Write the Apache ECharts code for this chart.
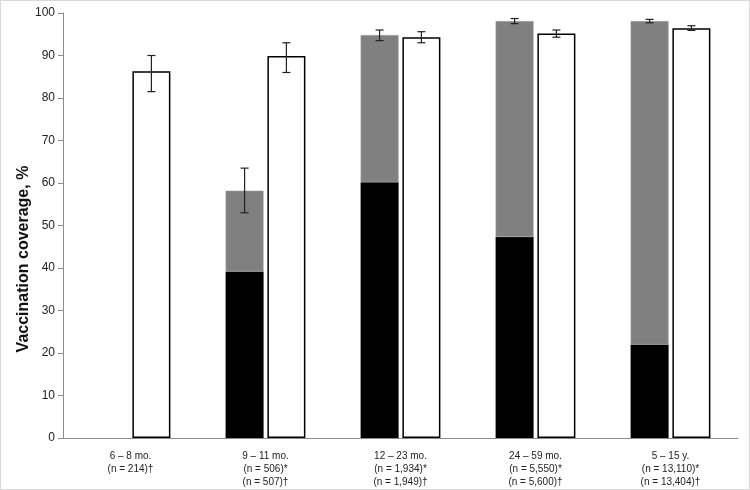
<!DOCTYPE html>
<html>
<head>
<meta charset="utf-8">
<script src="https://cdn.jsdelivr.net/npm/echarts@6/dist/echarts.min.js"></script>
<style>
  html, body { margin: 0; padding: 0; background: #fff; }
  #chart { width: 748px; height: 488px; border: 1px solid #d9d9d9; }
</style>
</head>
<body>
<div id="chart"></div>
<script>
// categories + sample sizes
const categories = [
  "6 – 8 mo.\n(n = 214)†",
  "9 – 11 mo.\n(n = 506)*\n(n = 507)†",
  "12 – 23 mo.\n(n = 1,934)*\n(n = 1,949)†",
  "24 – 59 mo.\n(n = 5,550)*\n(n = 5,600)†",
  "5 – 15 y.\n(n = 13,110)*\n(n = 13,404)†"
];

// stacked bar: black part and total height (black + gray)
const blackValues = [null, 39.2, 60.2, 47.3, 22.0];
const stackTotals = [null, 58.2, 94.8, 98.1, 98.1];
const stackLow = [null, 53.0, 93.5, 97.5, 97.7];
const stackHigh = [null, 63.5, 96.0, 98.7, 98.5];

// white bar
const whiteValues = [86.3, 89.9, 94.3, 95.2, 96.4];
const whiteLow = [81.5, 86.0, 93.0, 94.3, 95.9];
const whiteHigh = [90.0, 93.0, 95.6, 96.0, 97.0];

const yTicks = [0, 10, 20, 30, 40, 50, 60, 70, 80, 90, 100];

const grayValues = stackTotals.map((t, i) => (t == null ? null : +(t - blackValues[i]).toFixed(1)));

const BAR_W = 38;
const GAP = 0.1; // barGap ratio
const offset = (BAR_W + BAR_W * GAP) / 2;

const errData = [];
stackTotals.forEach((t, i) => {
  if (t != null) errData.push([i, stackLow[i], stackHigh[i], -1]);
});
whiteValues.forEach((v, i) => errData.push([i, whiteLow[i], whiteHigh[i], 1]));

const chart = echarts.init(document.getElementById("chart"));
const font = "'Liberation Sans', Arial, sans-serif";

chart.setOption({
  animation: false,
  textStyle: { fontFamily: font },
  grid: { left: 62, right: 11, top: 12, bottom: 50, containLabel: false },
  // axis title sits a bit below the plot middle, like the original
  graphic: [{
    type: "text",
    x: 23,
    y: 258,
    rotation: Math.PI / 2,
    style: {
      text: "Vaccination coverage, %",
      font: "bold 16px " + font,
      fill: "#111",
      align: "center",
      verticalAlign: "middle"
    }
  }],
  xAxis: {
    type: "category",
    data: categories,
    axisLine: { lineStyle: { color: "#8c8c8c" } },
    axisTick: { length: 5, lineStyle: { color: "#8c8c8c" } },
    axisLabel: { color: "#222", fontSize: 10, lineHeight: 13, margin: 12 }
  },
  yAxis: {
    type: "value",
    min: yTicks[0],
    max: yTicks[yTicks.length - 1],
    interval: 10,
    axisLine: { show: true, lineStyle: { color: "#8c8c8c" } },
    axisTick: { show: true, length: 5, lineStyle: { color: "#8c8c8c" } },
    axisLabel: { color: "#222", fontSize: 12, margin: 8 },
    splitLine: { show: false }
  },
  series: [
    {
      name: "black",
      type: "bar",
      stack: "a",
      barWidth: BAR_W,
      barGap: "10%",
      data: blackValues,
      itemStyle: { color: "#000" }
    },
    {
      name: "gray",
      type: "bar",
      stack: "a",
      barWidth: BAR_W,
      data: grayValues,
      itemStyle: { color: "#808080", borderColor: "#a6a6a6", borderWidth: 0.5 }
    },
    {
      name: "white",
      type: "bar",
      barWidth: BAR_W,
      data: whiteValues,
      itemStyle: { color: "#fff", borderColor: "#000", borderWidth: 1.5 }
    },
    {
      type: "custom",
      data: errData,
      z: 10,
      renderItem: function (params, api) {
        const side = api.value(3);
        const lo = api.coord([api.value(0), api.value(1)]);
        const hi = api.coord([api.value(0), api.value(2)]);
        const x = lo[0] + side * offset;
        const cap = 4;
        const style = { stroke: "#222", lineWidth: 1.2 };
        return {
          type: "group",
          children: [
            { type: "line", shape: { x1: x, y1: lo[1], x2: x, y2: hi[1] }, style: style },
            { type: "line", shape: { x1: x - cap, y1: lo[1], x2: x + cap, y2: lo[1] }, style: style },
            { type: "line", shape: { x1: x - cap, y1: hi[1], x2: x + cap, y2: hi[1] }, style: style }
          ]
        };
      }
    }
  ]
});
window.addEventListener("resize", () => chart.resize());
</script>
</body>
</html>
